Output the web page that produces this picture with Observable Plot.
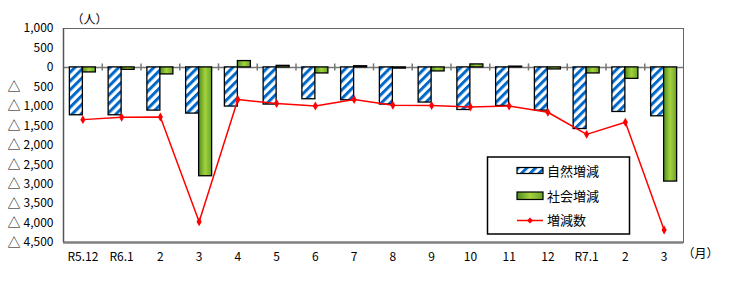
<!DOCTYPE html>
<html>
<head>
<meta charset="utf-8">
<script src="https://cdn.jsdelivr.net/npm/d3@7"></script>
<script src="https://cdn.jsdelivr.net/npm/@observablehq/plot@0.6"></script>
<style>
  html, body { margin: 0; padding: 0; background: #fff; }
  #chart { width: 733px; height: 286px; }
</style>
</head>
<body>
<div id="chart"></div>
<script>
const categories = ["R5.12", "R6.1", "2", "3", "4", "5", "6", "7", "8", "9", "10", "11", "12", "R7.1", "2 ", "3 "];
const categoryLabels = ["R5.12", "R6.1", "2", "3", "4", "5", "6", "7", "8", "9", "10", "11", "12", "R7.1", "2", "3"];
const natural = [-1230, -1230, -1110, -1187, -1006, -955, -818, -844, -955, -903, -1094, -990, -1110, -1584, -1145, -1256];
const social  = [-129, -62, -180, -2797, 163, 40, -155, 30, -30, -103, 77, 20, -52, -155, -294, -2934];
const total   = [-1342, -1282, -1274, -3966, -826, -929, -990, -826, -973, -980, -1017, -990, -1153, -1721, -1411, -4180];
const yTicks = [1000, 500, 0, -500, -1000, -1500, -2000, -2500, -3000, -3500, -4000, -4500];
const legendLabels = ["自然増減", "社会増減", "増減数"];
const yUnit = "（人）";
const xUnit = "（月）";

const rows = categories.map((c, i) => ({c, natural: natural[i], social: social[i], total: total[i]}));
const font = "'Noto Sans CJK JP', 'Noto Sans', sans-serif";
const bw = (683 - 63) / categories.length;
const half = bw / 2;
const barW = 13;

const svg = Plot.plot({
  width: 733,
  height: 286,
  marginLeft: 63,
  marginRight: 50,
  marginTop: 28,
  marginBottom: 44,
  style: {fontFamily: font, fontSize: "12px", color: "#000", background: "#fff"},
  x: {type: "band", domain: categories, padding: 0, round: false, label: null},
  y: {domain: [-4500, 1000], label: null},
  marks: [
    Plot.frame({stroke: "#666", strokeWidth: 1}),
    Plot.ruleY([0], {stroke: "#777", strokeWidth: 1.5}),
    Plot.ruleX(categories.slice(1), {x: d => d, y1: -90, y2: 90, dx: -half, stroke: "#777", strokeWidth: 1.5}),
    Plot.barY(rows, {x: "c", y: "natural", fill: "url(#hatch)", stroke: "#000", strokeWidth: 1.3,
      insetLeft: half - barW, insetRight: half}),
    Plot.barY(rows, {x: "c", y: "social", fill: "url(#greenGrad)", stroke: "#000", strokeWidth: 1.3,
      insetLeft: half, insetRight: half - barW}),
    Plot.ruleY([-4500], {stroke: "#808080", strokeWidth: 2.5}),
    Plot.ruleX([categories[0]], {x: d => d, dx: -half, stroke: "#555", strokeWidth: 1.5}),
    Plot.line(rows, {x: "c", y: "total", stroke: "#ff0000", strokeWidth: 1.5}),
    Plot.dot(rows, {x: "c", y: "total", symbol: "diamond", r: 2.7, fill: "#ff0000", stroke: "none"}),
    Plot.axisY(yTicks, {tickSize: 0, tickPadding: 10, fontSize: 12, label: null,
      tickFormat: d => d3.format(",")(Math.abs(d))}),
    Plot.text(yTicks.filter(d => d < 0), {y: d => d, text: () => "△", frameAnchor: "left", dx: -56,
      textAnchor: "start", fontSize: 13}),
    Plot.axisX({tickSize: 0, tickPadding: 10, fontSize: 12, label: null, tickFormat: (d, i) => categoryLabels[i]}),
    Plot.text([xUnit], {frameAnchor: "bottom-right", dx: 17, dy: 15, text: d => d, textAnchor: "middle", fontSize: 12}),
    Plot.text([yUnit], {frameAnchor: "top-left", dx: 26, dy: -13, text: d => d, textAnchor: "middle", fontSize: 12})
  ]
});

const s = d3.select(svg);
const defs = s.insert("defs", ":first-child");
const pat = defs.append("pattern").attr("id", "hatch").attr("patternUnits", "userSpaceOnUse")
  .attr("width", 6.2).attr("height", 6.2).attr("patternTransform", "rotate(45)");
pat.append("rect").attr("width", 6.2).attr("height", 6.2).attr("fill", "#fff");
pat.append("rect").attr("x", 0).attr("width", 3).attr("height", 6.2).attr("fill", "#0068c8");
const grad = defs.append("linearGradient").attr("id", "greenGrad").attr("x1", "0%").attr("x2", "100%").attr("y1", "0%").attr("y2", "0%");
grad.append("stop").attr("offset", "0%").attr("stop-color", "#4f8e22");
grad.append("stop").attr("offset", "50%").attr("stop-color", "#a4d23c");
grad.append("stop").attr("offset", "100%").attr("stop-color", "#6aa52a");

// Legend
const lg = s.append("g").attr("font-family", font).attr("font-size", 13).attr("text-anchor", "start");
lg.append("rect").attr("x", 487.5).attr("y", 157).attr("width", 142).attr("height", 77)
  .attr("fill", "#fff").attr("stroke", "#000").attr("stroke-width", 1.5);
lg.append("rect").attr("x", 517).attr("y", 167.5).attr("width", 26).attr("height", 6)
  .attr("fill", "url(#hatch)").attr("stroke", "#000").attr("stroke-width", 1.2);
lg.append("rect").attr("x", 517).attr("y", 192).attr("width", 26).attr("height", 7.5)
  .attr("fill", "url(#greenGrad)").attr("stroke", "#000").attr("stroke-width", 1.2);
lg.append("line").attr("x1", 517).attr("x2", 543).attr("y1", 220.5).attr("y2", 220.5)
  .attr("stroke", "#ff0000").attr("stroke-width", 1.5);
lg.append("path").attr("d", d3.symbol(d3.symbolDiamond2, 24)()).attr("transform", "translate(530,220.5)")
  .attr("fill", "#ff0000");
const ly = [171, 196, 220.5];
legendLabels.forEach((t, i) => {
  lg.append("text").attr("x", 547).attr("y", ly[i]).attr("dy", "0.35em").attr("text-anchor", "start").text(t);
});

document.getElementById("chart").appendChild(svg);
</script>
</body>
</html>
